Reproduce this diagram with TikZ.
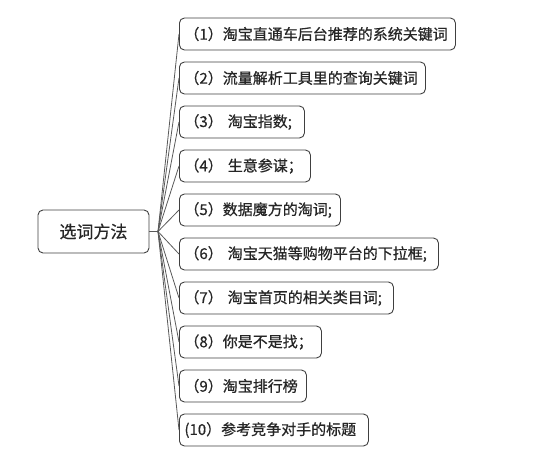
\documentclass[tikz,border=0pt]{standalone}
\usepackage{fontspec}
\setmainfont[FakeBold=0.6]{Noto Sans CJK SC}
\usepackage{tikz}

\begin{document}
\begin{tikzpicture}[x=1pt,y=-1pt,
	topic/.style={draw=black!75, line width=0.9pt, rounded corners=5pt, fill=white,
		text=black!85, font=\fontsize{17}{20}\selectfont, minimum width=111pt, minimum height=43pt},
	item/.style={draw=black!75, line width=0.9pt, rounded corners=5pt, fill=white,
		text=black!85, font=\fontsize{15}{18}\selectfont, anchor=west, minimum height=32pt,
		inner xsep=5pt, align=left},
	link/.style={draw=black!65, line width=0.8pt}]
	\useasboundingbox (0,0) rectangle (550,468);
	\node [topic] (root) at (93.5,231.5) {选词方法};
	\coordinate (fork) at (158,231.5);
	\draw [link] (root.east) -- (fork);
	\foreach \i/\w/\t in {1/276/{（1）淘宝直通车后台推荐的系统关键词},
		2/246/{（2）流量解析工具里的查询关键词},
		3/125/{（3） 淘宝指数;},
		4/131/{（4） 生意参谋；},
		5/161/{（5）数据魔方的淘词;},
		6/259/{（6） 淘宝天猫等购物平台的下拉框;},
		7/214/{（7） 淘宝首页的相关类目词;},
		8/142/{（8）你是不是找；},
		9/127/{（9）淘宝排行榜},
		10/189/{(10）参考竞争对手的标题}} {
		\node [item, text width=\w pt-10pt] (w\i) at (179, 34+44*\i-44) {\t};
		\draw [link] (fork) -- (w\i.west);
	}
\end{tikzpicture}
\end{document}
